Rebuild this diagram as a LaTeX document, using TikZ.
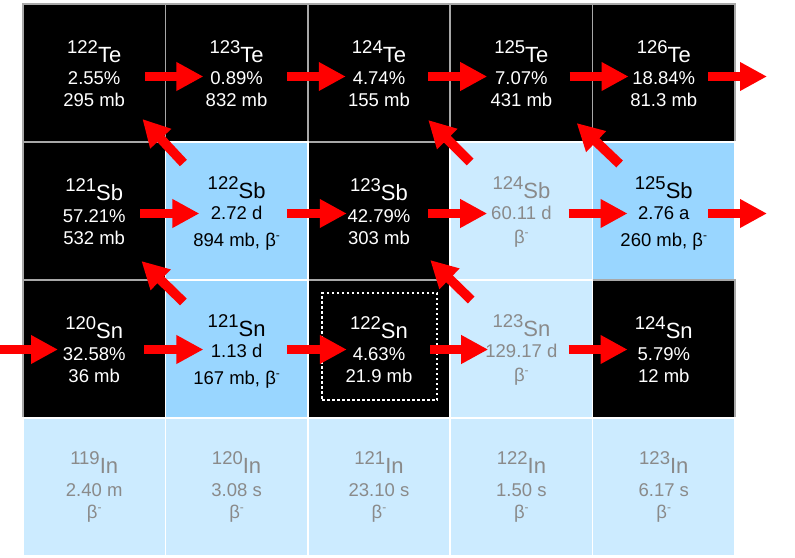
\documentclass[tikz,border=0pt]{standalone}
\usepackage{fontspec}
\usepackage{graphicx}
\setmainfont{Liberation Sans}
\usetikzlibrary{calc,arrows.meta}
\definecolor{cellblue}{HTML}{99D6FF}
\definecolor{cellpale}{HTML}{CCEBFF}
\definecolor{palegray}{HTML}{8A8A8A}
\definecolor{arrowred}{HTML}{FF0000}
\definecolor{gridgray}{HTML}{A8A8A8}
\newcommand\bodyfs{\fontsize{18.5}{18.5}\selectfont}
\newcommand\symfs{\fontsize{22}{22}\selectfont}
\newcommand\isolabel[2]{{\bodyfs\raisebox{9pt}{#1}}{\symfs #2}}
\newcommand\betaminus{β{\fontsize{12}{12}\selectfont\raisebox{7pt}{-}}}
\tikzset{
  cellbox/.style={minimum width=142.4pt, minimum height=138pt, inner sep=0pt, outer sep=0pt, line width=1.5pt},
  blackcell/.style={cellbox, fill=black, draw=gridgray},
  bluecell/.style={cellbox, fill=cellblue, draw=white},
  palecell/.style={cellbox, fill=cellpale, draw=white},
  txt/.style={anchor=base, inner sep=0pt, font=\bodyfs},
  rarrow/.style={draw=arrowred, line width=9.5pt, -{Triangle[length=27pt,width=27pt]}},
  highlight/.style={draw=white, line width=2.5pt, dash pattern=on 2.5pt off 2.5pt, minimum width=115pt, minimum height=107pt, inner sep=0pt}
}
% name, x, y, mass, symbol, line2, line3
\newcommand\blackiso[7]{%
  \node[blackcell] (#1) at (#2,#3) {};
  \node[txt,text=white] at ($(#1.north)+(0,58)$) {\isolabel{#4}{#5}};
  \node[txt,text=white] at ($(#1.north)+(0,80)$) {#6};
  \node[txt,text=white] at ($(#1.north)+(0,102)$) {#7};}
\newcommand\blueiso[7]{%
  \node[bluecell] (#1) at (#2,#3) {};
  \node[txt,text=black] at ($(#1.north)+(0,56)$) {\isolabel{#4}{#5}};
  \node[txt,text=black] at ($(#1.north)+(0,77)$) {#6};
  \node[txt,text=black] at ($(#1.north)+(0,104)$) {#7};}
\newcommand\paleiso[7]{%
  \node[palecell] (#1) at (#2,#3) {};
  \node[txt,text=palegray] at ($(#1.north)+(0,56)$) {\isolabel{#4}{#5}};
  \node[txt,text=palegray] at ($(#1.north)+(0,77)$) {#6};
  \node[txt,text=palegray] at ($(#1.north)+(0,101)$) {#7};}
\newcommand\iniso[7]{%
  \node[palecell] (#1) at (#2,#3) {};
  \node[txt,text=palegray] at ($(#1.north)+(0,55)$) {\isolabel{#4}{#5}};
  \node[txt,text=palegray] at ($(#1.north)+(0,78)$) {#6};
  \node[txt,text=palegray] at ($(#1.north)+(0,100)$) {#7};}

\begin{document}
\begin{tikzpicture}[x=1pt,y=-1pt]
\useasboundingbox (0,0) rectangle (795,557);
\fill[white] (0,0) rectangle (795,557);

% Te row
\blackiso{te122}{94.2}{73}{122}{Te}{2.55\%}{295 mb}
\blackiso{te123}{236.6}{73}{123}{Te}{0.89\%}{832 mb}
\blackiso{te124}{379}{73}{124}{Te}{4.74\%}{155 mb}
\blackiso{te125}{521.4}{73}{125}{Te}{7.07\%}{431 mb}
\blackiso{te126}{663.8}{73}{126}{Te}{18.84\%}{81.3 mb}
% Sb row
\blackiso{sb121}{94.2}{211}{121}{Sb}{57.21\%}{532 mb}
\blackiso{sb123}{379}{211}{123}{Sb}{42.79\%}{303 mb}
\blueiso{sb122}{236.6}{211}{122}{Sb}{2.72 d}{894 mb, \betaminus}
\paleiso{sb124}{521.4}{211}{124}{Sb}{60.11 d}{\betaminus}
\blueiso{sb125}{663.8}{211}{125}{Sb}{2.76 a}{260 mb, \betaminus}
% Sn row
\blackiso{sn120}{94.2}{349}{120}{Sn}{32.58\%}{36 mb}
\blackiso{sn122}{379}{349}{122}{Sn}{4.63\%}{21.9 mb}
\blackiso{sn124}{663.8}{349}{124}{Sn}{5.79\%}{12 mb}
\blueiso{sn121}{236.6}{349}{121}{Sn}{1.13 d}{167 mb, \betaminus}
\paleiso{sn123}{521.4}{349}{123}{Sn}{129.17 d}{\betaminus}
% In row
\iniso{in119}{94.2}{487}{119}{In}{2.40 m}{\betaminus}
\iniso{in120}{236.6}{487}{120}{In}{3.08 s}{\betaminus}
\iniso{in121}{379}{487}{121}{In}{23.10 s}{\betaminus}
\iniso{in122}{521.4}{487}{122}{In}{1.50 s}{\betaminus}
\iniso{in123}{663.8}{487}{123}{In}{6.17 s}{\betaminus}

% highlighted target
\node[highlight] (target) at ($(sn122.center)+(0.5,-2.5)$) {};

% free arrow ends
\coordinate (teout) at ($(te126.east)+(32,3.5)$);
\coordinate (sbout) at ($(sb125.east)+(32,2.5)$);
\coordinate (snin) at ($(sn120.west)+(-23,0.5)$);

% neutron captures, Te row
\draw[rarrow] ($(te122.east)+(-20,3.5)$) -- ($(te123.west)+(38,3.5)$);
\draw[rarrow] ($(te123.east)+(-21,3.5)$) -- ($(te124.west)+(38,3.5)$);
\draw[rarrow] ($(te124.east)+(-22,3.5)$) -- ($(te125.west)+(37,3.5)$);
\draw[rarrow] ($(te125.east)+(-23,3.5)$) -- ($(te126.west)+(36,3.5)$);
\draw[rarrow] ($(te126.east)+(-27,3.5)$) -- (teout);
% Sb row
\draw[rarrow] ($(sb121.east)+(-25,2.5)$) -- ($(sb122.west)+(34,2.5)$);
\draw[rarrow] ($(sb122.east)+(-21,2.5)$) -- ($(sb123.west)+(39,2.5)$);
\draw[rarrow] ($(sb123.east)+(-22,2.5)$) -- ($(sb124.west)+(37,2.5)$);
\draw[rarrow] ($(sb124.east)+(-24,2.5)$) -- ($(sb125.west)+(35,2.5)$);
\draw[rarrow] ($(sb125.east)+(-27,2.5)$) -- (sbout);
% Sn row
\draw[rarrow] (snin) -- ($(sn120.west)+(35,0.5)$);
\draw[rarrow] ($(sn120.east)+(-21,0.5)$) -- ($(sn121.west)+(38,0.5)$);
\draw[rarrow] ($(sn121.east)+(-21,0.5)$) -- ($(sn122.west)+(39,0.5)$);
\draw[rarrow] ($(sn122.east)+(-20,0.5)$) -- ($(sn123.west)+(38,0.5)$);
\draw[rarrow] ($(sn123.east)+(-24,0.5)$) -- ($(sn124.west)+(35,0.5)$);

% beta decays
\draw[rarrow] ($(sb122.north west)+(18,21)$) -- ($(te122.south east)+(-23,-23)$);
\draw[rarrow] ($(sb124.north west)+(20,20)$) -- ($(te124.south east)+(-22,-22)$);
\draw[rarrow] ($(sb125.north west)+(27,22)$) -- ($(te125.south east)+(-16,-19)$);
\draw[rarrow] ($(sn121.north west)+(18,22)$) -- ($(sb121.south east)+(-24,-19)$);
\draw[rarrow] ($(sn123.north west)+(21,20)$) -- ($(sb123.south east)+(-20,-20)$);
\end{tikzpicture}
\end{document}
